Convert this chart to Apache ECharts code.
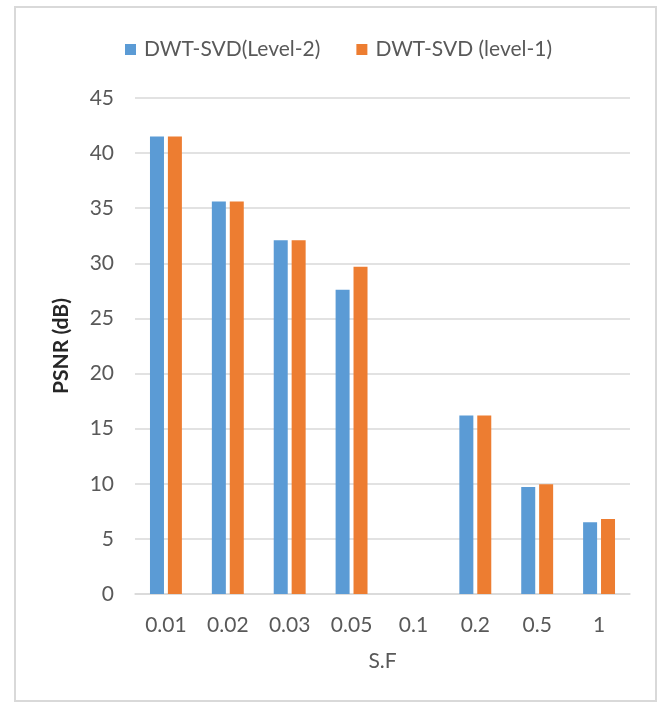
<!DOCTYPE html>
<html>
<head>
<meta charset="utf-8">
<script src="https://cdn.jsdelivr.net/npm/echarts@6/dist/echarts.min.js"></script>
<style>
  html, body { margin: 0; padding: 0; background: #fff; }
  #chart { width: 661px; height: 708px; }
</style>
</head>
<body>
<div id="chart"></div>
<script>
// Scaling factors on the category axis
const categories = ['0.01', '0.02', '0.03', '0.05', '0.1', '0.2', '0.5', '1'];
// PSNR (dB) for each embedding level; 0.1 has no measurement
const level2 = [41.5, 35.6, 32.1, 27.6, null, 16.2, 9.7, 6.5];
const level1 = [41.5, 35.6, 32.1, 29.7, null, 16.2, 9.95, 6.8];
const seriesNames = ['DWT-SVD(Level-2)', 'DWT-SVD (level-1)'];
const yTicks = { min: 0, max: 45, interval: 5 };

const textColor = '#595959';
const font = 'Lato, "Liberation Sans", sans-serif';

const chart = echarts.init(document.getElementById('chart'), null, { renderer: 'canvas' });
chart.setOption({
  backgroundColor: '#ffffff',
  animation: false,
  graphic: [{
    type: 'rect',
    shape: { x: 15, y: 7, width: 641, height: 694 },
    style: { fill: 'none', stroke: '#d9d9d9', lineWidth: 2 },
    silent: true
  }],
  legend: {
    top: 34,
    left: 120,
    itemWidth: 11,
    itemHeight: 11,
    itemGap: 36,
    icon: 'rect',
    textStyle: { color: textColor, fontSize: 21, fontFamily: font, padding: [0, 0, 0, 3] },
    data: seriesNames
  },
  grid: { left: 135, right: 31, top: 98, bottom: 114, containLabel: false },
  xAxis: {
    type: 'category',
    data: categories,
    name: 'S.F',
    nameLocation: 'middle',
    nameGap: 57,
    nameTextStyle: { color: textColor, fontSize: 21, fontFamily: font },
    axisLine: { lineStyle: { color: '#d9d9d9', width: 1.5 } },
    axisTick: { show: false },
    axisLabel: { color: textColor, fontSize: 21, fontFamily: font, margin: 21 }
  },
  yAxis: {
    type: 'value',
    min: yTicks.min,
    max: yTicks.max,
    interval: yTicks.interval,
    name: 'PSNR (dB)',
    nameLocation: 'middle',
    nameGap: 63,
    nameTextStyle: { color: '#262626', fontSize: 21, fontWeight: 'bold', fontFamily: font },
    axisLine: { show: false },
    axisTick: { show: false },
    axisLabel: { color: textColor, fontSize: 21, fontFamily: font, margin: 21 },
    splitLine: { lineStyle: { color: '#d9d9d9', width: 1.5 } }
  },
  series: [
    {
      name: seriesNames[0],
      type: 'bar',
      data: level2,
      barWidth: 14,
      barGap: '28%',
      itemStyle: { color: '#5b9bd5' }
    },
    {
      name: seriesNames[1],
      type: 'bar',
      data: level1,
      barWidth: 14,
      itemStyle: { color: '#ed7d31' }
    }
  ]
});
</script>
</body>
</html>
